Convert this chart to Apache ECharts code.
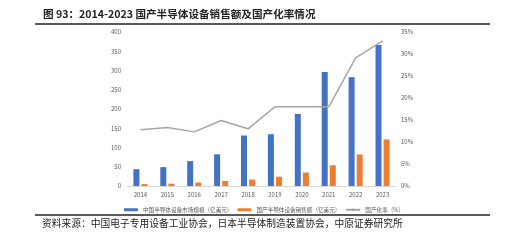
<!DOCTYPE html>
<html>
<head>
<meta charset="utf-8">
<script src="https://cdn.jsdelivr.net/npm/echarts@6/dist/echarts.min.js"></script>
<style>
  html, body { margin: 0; padding: 0; background: #fff; }
  #chart { width: 528px; height: 240px; }
</style>
</head>
<body>
<div id="chart"></div>
<script>
var years = ["2014", "2015", "2016", "2017", "2018", "2019", "2020", "2021", "2022", "2023"];
// 中国半导体设备市场规模（亿美元）
var marketSize = [43.7, 49, 64.6, 82.3, 131.1, 134.5, 187.2, 296.2, 282.7, 366];
// 国产半导体设备销售额（亿美元）
var domesticSales = [5, 6, 9, 13, 17, 24, 35, 54, 82, 121];
// 国产化率（%）
var localRate = [12.8, 13.3, 12.3, 14.9, 13.0, 18.0, 18.0, 18.0, 29.1, 33.0];

var seriesNames = ["中国半导体设备市场规模（亿美元）", "国产半导体设备销售额（亿美元）", "国产化率（%）"];

var cjk = '"Noto Sans CJK SC", sans-serif';
var myChart = echarts.init(document.getElementById("chart"));

var option = {
  animation: false,
  textStyle: { fontFamily: cjk },
  legend: {
    data: seriesNames,
    top: 202,
    left: "center",
    itemWidth: 14,
    itemHeight: 3,
    itemGap: 5,
    textStyle: { fontSize: 5.6, color: "#595959", fontFamily: cjk }
  },
  grid: { left: 127, right: 132, top: 32, bottom: 54 },
  xAxis: {
    type: "category",
    data: years,
    axisTick: { show: false },
    axisLine: { lineStyle: { color: "#d9d9d9" } },
    axisLabel: { fontSize: 6, color: "#595959", margin: 6 }
  },
  yAxis: [
    {
      type: "value",
      min: 0, max: 400, interval: 50,
      splitLine: { show: false },
      axisLine: { show: false },
      axisLabel: { fontSize: 6, color: "#595959", margin: 6 }
    },
    {
      type: "value",
      min: 0, max: 35, interval: 5,
      splitLine: { show: false },
      axisLine: { show: false },
      axisLabel: { fontSize: 6, color: "#595959", margin: 5, formatter: "{value}%" }
    }
  ],
  series: [
    {
      name: seriesNames[0],
      type: "bar",
      data: marketSize,
      barWidth: 6,
      barGap: "35%",
      itemStyle: { color: "#4472C4" }
    },
    {
      name: seriesNames[1],
      type: "bar",
      data: domesticSales,
      barWidth: 6,
      itemStyle: { color: "#ED7D31" }
    },
    {
      name: seriesNames[2],
      type: "line",
      yAxisIndex: 1,
      data: localRate,
      symbol: "none",
      lineStyle: { color: "#a5a5a5", width: 1.5 },
      itemStyle: { color: "#a5a5a5" }
    }
  ],
  graphic: [
    {
      type: "text", left: 43, top: 9,
      style: { text: "图 93：2014-2023 国产半导体设备销售额及国产化率情况", fontSize: 10.6, fontWeight: "bold", fill: "#222", fontFamily: cjk }
    },
    {
      type: "line", shape: { x1: 35, y1: 24, x2: 490, y2: 24 },
      style: { stroke: "#222", lineWidth: 1.5 }
    },
    {
      type: "line", shape: { x1: 35, y1: 215, x2: 490, y2: 215 },
      style: { stroke: "#222", lineWidth: 1.5 }
    },
    {
      type: "text", left: 42, top: 218,
      style: { text: "资料来源：中国电子专用设备工业协会，日本半导体制造装置协会，中原证券研究所", fontSize: 9.75, fill: "#222", fontFamily: cjk }
    }
  ]
};

myChart.setOption(option);
</script>
</body>
</html>
